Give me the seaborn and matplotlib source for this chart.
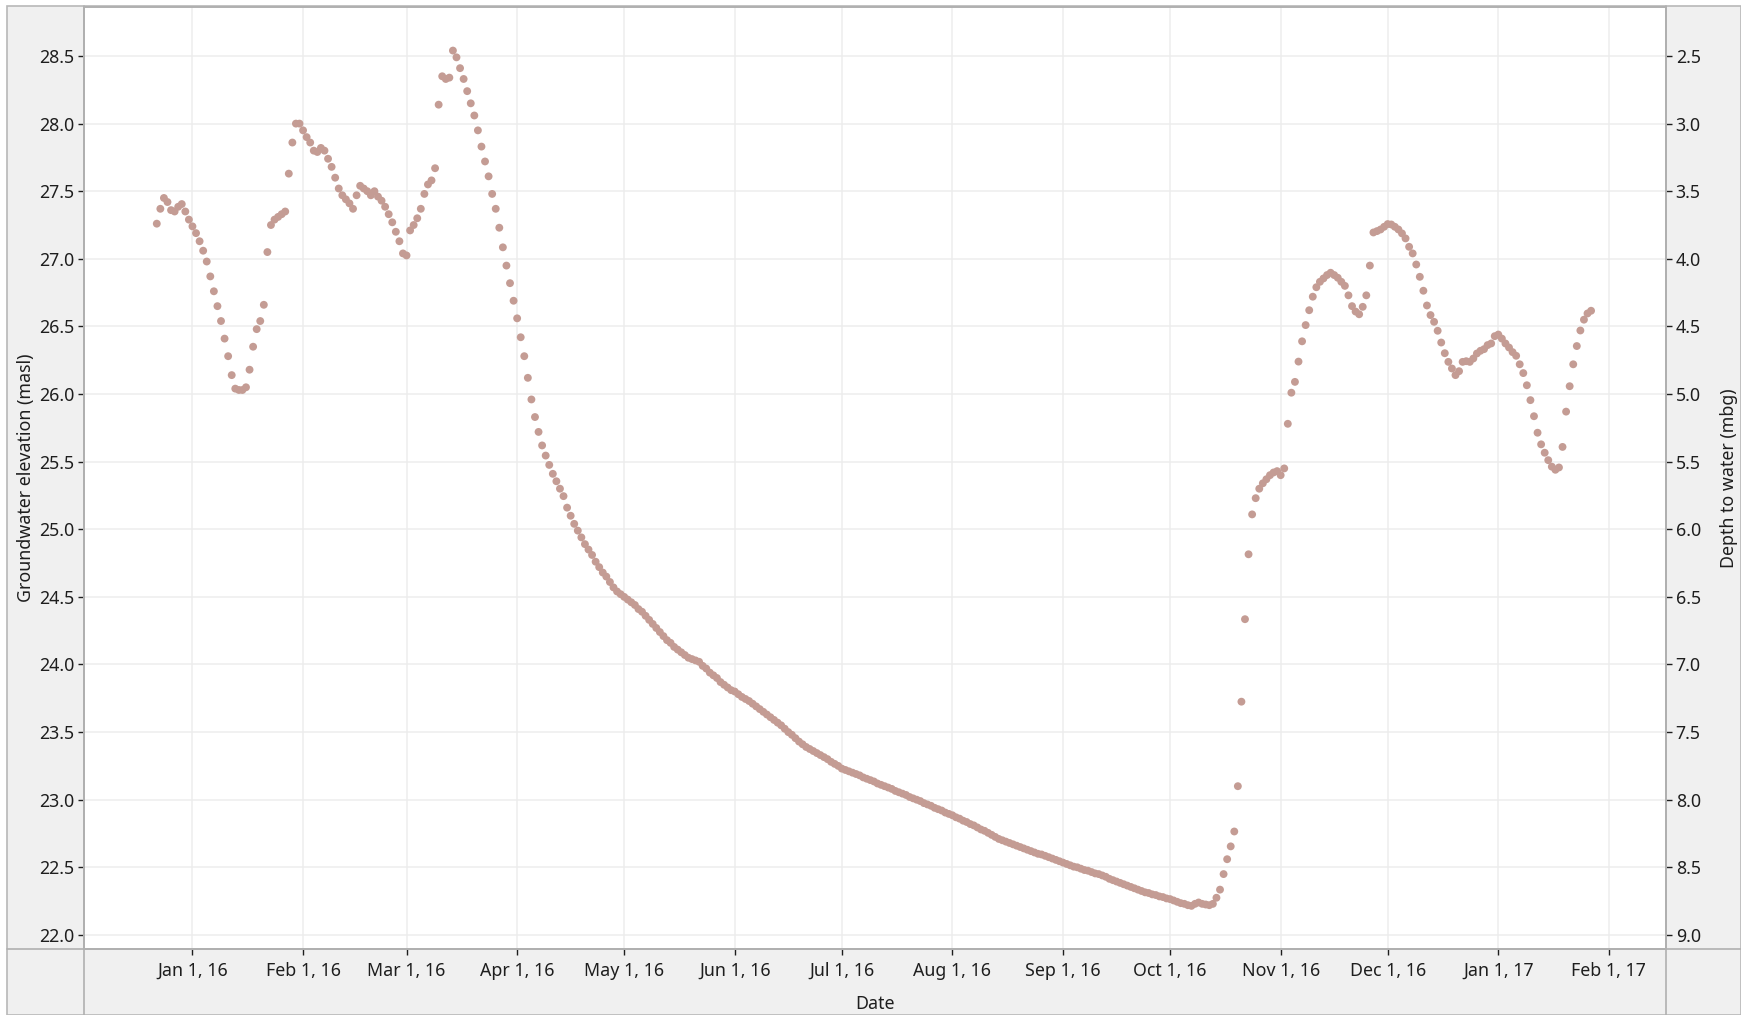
import matplotlib
matplotlib.use("Agg")
import matplotlib.pyplot as plt
from matplotlib.patches import Rectangle
from matplotlib.lines import Line2D
import numpy as np
import pandas as pd
import seaborn as sns

# ---------------- data (daily groundwater elevation, masl) ----------------
dec15 = [27.26, 27.37, 27.45, 27.42, 27.36, 27.35, 27.385, 27.405, 27.35, 27.29]  # from Dec 22, 2015
jan16 = [27.24, 27.19, 27.13, 27.06, 26.98, 26.87, 26.76, 26.65, 26.54, 26.41, 26.28, 26.14, 26.04,
         26.03, 26.03, 26.05, 26.18, 26.35, 26.48, 26.54, 26.66, 27.05, 27.25, 27.29, 27.31, 27.33,
         27.35, 27.63, 27.86, 28.00, 28.00]
feb16 = [27.95, 27.90, 27.86, 27.80, 27.79, 27.82, 27.80, 27.74, 27.68, 27.60, 27.52, 27.47, 27.44,
         27.41, 27.37, 27.47, 27.54, 27.52, 27.50, 27.47, 27.50, 27.46, 27.43, 27.385, 27.33, 27.27,
         27.20, 27.13, 27.04]
mar16 = [27.025, 27.21, 27.25, 27.30, 27.37, 27.48, 27.55, 27.58, 27.67, 28.14, 28.35, 28.33, 28.34,
         28.54, 28.49, 28.41, 28.33, 28.24, 28.15, 28.06, 27.95, 27.83, 27.72, 27.61, 27.48, 27.37,
         27.23, 27.085, 26.95, 26.82, 26.69]
apr16 = [26.56, 26.42, 26.28, 26.12, 25.96, 25.83, 25.72, 25.62, 25.545, 25.476, 25.41, 25.355, 25.30,
         25.245, 25.16, 25.10, 25.04, 24.99, 24.94, 24.89, 24.85, 24.81, 24.76, 24.72, 24.68, 24.65,
         24.61, 24.57, 24.54, 24.52]
may16 = [24.50, 24.48, 24.46, 24.44, 24.41, 24.39, 24.36, 24.33, 24.30, 24.27, 24.24, 24.21, 24.18,
         24.16, 24.13, 24.11, 24.09, 24.07, 24.05, 24.04, 24.03, 24.02, 23.99, 23.97, 23.94, 23.92,
         23.90, 23.87, 23.85, 23.83, 23.81]
jun16 = [23.80, 23.78, 23.76, 23.745, 23.73, 23.71, 23.69, 23.67, 23.65, 23.63, 23.61, 23.59, 23.57,
         23.55, 23.525, 23.50, 23.48, 23.455, 23.43, 23.41, 23.39, 23.375, 23.36, 23.345, 23.33,
         23.315, 23.30, 23.28, 23.265, 23.25]
jul16 = [23.23, 23.22, 23.21, 23.20, 23.19, 23.18, 23.165, 23.155, 23.145, 23.135, 23.12, 23.11, 23.10,
         23.09, 23.08, 23.065, 23.055, 23.045, 23.035, 23.02, 23.01, 23.00, 22.99, 22.975, 22.965,
         22.955, 22.94, 22.93, 22.92, 22.905, 22.895]
aug16 = [22.885, 22.87, 22.86, 22.845, 22.835, 22.82, 22.81, 22.795, 22.78, 22.77, 22.755, 22.74,
         22.725, 22.71, 22.70, 22.69, 22.68, 22.67, 22.66, 22.65, 22.64, 22.63, 22.62, 22.61, 22.60,
         22.595, 22.585, 22.575, 22.565, 22.555, 22.545]
sep16 = [22.535, 22.525, 22.515, 22.505, 22.50, 22.49, 22.48, 22.475, 22.465, 22.455, 22.45, 22.44,
         22.43, 22.415, 22.405, 22.395, 22.385, 22.375, 22.365, 22.355, 22.345, 22.335, 22.325,
         22.315, 22.31, 22.30, 22.295, 22.285, 22.28, 22.27]
oct16 = [22.265, 22.255, 22.245, 22.235, 22.23, 22.22, 22.215, 22.23, 22.24, 22.23, 22.225, 22.22,
         22.23, 22.275, 22.335, 22.45, 22.56, 22.655, 22.765, 23.10, 23.725, 24.335, 24.815, 25.11,
         25.23, 25.30, 25.34, 25.37, 25.40, 25.42, 25.43]
nov16 = [25.40, 25.45, 25.78, 26.01, 26.09, 26.24, 26.39, 26.51, 26.62, 26.72, 26.79, 26.83, 26.855,
         26.88, 26.897, 26.88, 26.86, 26.83, 26.80, 26.73, 26.65, 26.61, 26.59, 26.645, 26.73, 26.95,
         27.195, 27.205, 27.217, 27.237]
dec16 = [27.257, 27.254, 27.237, 27.217, 27.188, 27.151, 27.089, 27.04, 26.958, 26.867, 26.764,
         26.655, 26.584, 26.534, 26.468, 26.381, 26.302, 26.238, 26.189, 26.14, 26.169, 26.238,
         26.243, 26.238, 26.263, 26.30, 26.32, 26.332, 26.362, 26.374, 26.428]
jan17 = [26.44, 26.41, 26.374, 26.344, 26.31, 26.283, 26.22, 26.155, 26.065, 25.955, 25.836, 25.714,
         25.628, 25.566, 25.511, 25.463, 25.44, 25.457, 25.609, 25.87, 26.058, 26.22, 26.355, 26.47,
         26.55, 26.596, 26.616]

month_starts = ["2015-12-22", "2016-01-01", "2016-02-01", "2016-03-01", "2016-04-01", "2016-05-01",
                "2016-06-01", "2016-07-01", "2016-08-01", "2016-09-01", "2016-10-01", "2016-11-01",
                "2016-12-01", "2017-01-01"]
month_values = [dec15, jan16, feb16, mar16, apr16, may16, jun16, jul16, aug16, sep16, oct16, nov16,
                dec16, jan17]

tick_dates = ["2016-01-01", "2016-02-01", "2016-03-01", "2016-04-01", "2016-05-01", "2016-06-01",
              "2016-07-01", "2016-08-01", "2016-09-01", "2016-10-01", "2016-11-01", "2016-12-01",
              "2017-01-01", "2017-02-01"]
tick_labels = ["Jan 1, 16", "Feb 1, 16", "Mar 1, 16", "Apr 1, 16", "May 1, 16", "Jun 1, 16",
               "Jul 1, 16", "Aug 1, 16", "Sep 1, 16", "Oct 1, 16", "Nov 1, 16", "Dec 1, 16",
               "Jan 1, 17", "Feb 1, 17"]
left_ticks = [22.0, 22.5, 23.0, 23.5, 24.0, 24.5, 25.0, 25.5, 26.0, 26.5, 27.0, 27.5, 28.0, 28.5]
right_ticks = [2.5, 3.0, 3.5, 4.0, 4.5, 5.0, 5.5, 6.0, 6.5, 7.0, 7.5, 8.0, 8.5, 9.0]
depth_reference = 31.0  # elevation + depth

frames = []
for start, vals in zip(month_starts, month_values):
    frames.append(pd.DataFrame({"Date": pd.date_range(start=start, periods=len(vals), freq="D"),
                                "Elevation": vals}))
df = pd.concat(frames, ignore_index=True)

# ---------------- style ----------------
sns.set_style("white")
plt.rcParams["font.family"] = ["Noto Sans", "DejaVu Sans"]
TXT = "#1e1e1e"
FS = 12.8
W, H = 1741, 1015

fig = plt.figure(figsize=(W / 100, H / 100), dpi=100)
fig.patch.set_facecolor("white")
fig.add_artist(Rectangle((7 / W, 0), 1 - 7 / W, 1 - 6 / H, transform=fig.transFigure,
                         facecolor="#f0f0f0", edgecolor="#b8b8b8", lw=1.2, zorder=0))
for xv in (84 / W, 1666 / W):
    fig.add_artist(Line2D([xv, xv], [0, 1 - 6 / H], transform=fig.transFigure,
                          color="#b0b0b0", lw=1.2, zorder=1))
fig.add_artist(Line2D([7 / W, 1], [1 - 949 / H] * 2, transform=fig.transFigure,
                      color="#b0b0b0", lw=1.2, zorder=1))

ax = fig.add_axes([84 / W, 1 - 949 / H, (1666 - 84) / W, (949 - 6.5) / H])
ax.set_facecolor("white")

sns.scatterplot(data=df, x="Date", y="Elevation", ax=ax, color="#c49c94", s=32,
                linewidth=0, edgecolor="none", zorder=3)

x0 = pd.Timestamp("2016-01-01") - pd.Timedelta(days=30.4)
x1 = pd.Timestamp("2016-01-01") + pd.Timedelta(days=413.0)
ax.set_xlim(x0, x1)
ylo, yhi = 21.896, 28.866
ax.set_ylim(ylo, yhi)

ax.set_xticks(pd.to_datetime(tick_dates))
ax.set_xticklabels(tick_labels)
ax.set_yticks(left_ticks)
ax.set_yticklabels([f"{v:.1f}" for v in left_ticks])
ax.grid(True, color="#ededed", lw=1.1, zorder=0)
ax.set_axisbelow(True)

ax.tick_params(axis="both", which="major", labelsize=FS, colors=TXT, length=4, width=1,
               direction="out")
ax.tick_params(axis="x", pad=5)
ax.tick_params(axis="y", pad=3, left=True)
ax.tick_params(axis="x", bottom=True)
for s in ax.spines.values():
    s.set_color("#b0b0b0")
    s.set_linewidth(1.2)

ax.set_xlabel("Date", fontsize=FS, color=TXT, labelpad=11)
ax.set_ylabel("Groundwater elevation (masl)", fontsize=FS, color=TXT, labelpad=3)

ax2 = ax.twinx()
ax2.set_ylim(depth_reference - ylo, depth_reference - yhi)
ax2.set_yticks(right_ticks)
ax2.set_yticklabels([f"{v:.1f}" for v in right_ticks])
ax2.tick_params(axis="y", labelsize=FS, colors=TXT, length=4, width=1, pad=3, right=True,
                direction="out")
ax2.grid(False)
for s in ax2.spines.values():
    s.set_color("#b0b0b0")
    s.set_linewidth(1.2)
ax2.set_ylabel("Depth to water (mbg)", fontsize=FS, color=TXT, labelpad=14)

fig.savefig("out.png", dpi=100, facecolor=fig.get_facecolor())
